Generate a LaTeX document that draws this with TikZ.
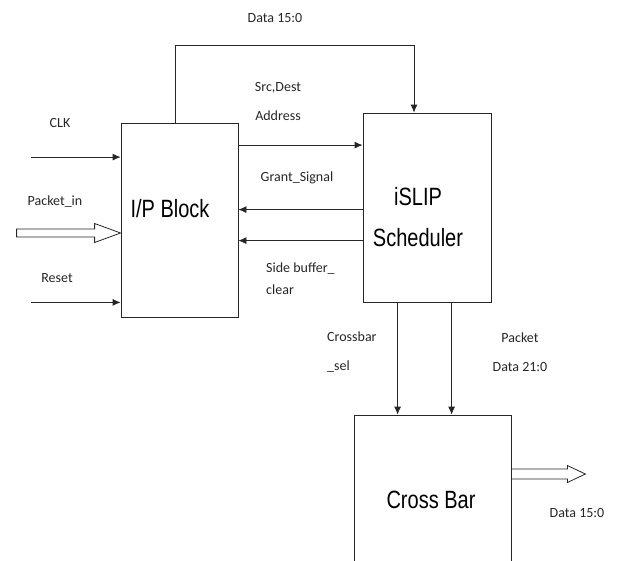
\documentclass[tikz,border=0pt]{standalone}
\usepackage{fontspec}
\setmainfont{Carlito}
\newfontfamily\boxfont[FakeStretch=0.8]{Liberation Sans}
\usetikzlibrary{arrows.meta}

\begin{document}
\begin{tikzpicture}[x=1pt,y=-1pt]
	\tikzstyle{every node}+=[inner sep=0pt]
	\tikzstyle{blk}=[draw=black!85, rectangle, line width=0.8pt]
	\tikzstyle{lbl}=[font=\fontsize{14}{29}\selectfont, text=black!85]
	\tikzstyle{big}=[font=\boxfont\fontsize{25}{41}\selectfont, align=center]
	\tikzstyle{sig}=[-{Latex[length=8pt,width=7pt]}, draw=black!85, line width=0.8pt]
	\tikzstyle{fat}=[draw=black!85, line width=0.8pt, line join=miter]
	\useasboundingbox (0,0) rectangle (617,560);
	\clip (0,0) rectangle (617,560);
	% blocks
	\node[blk, minimum width=117pt, minimum height=194pt] (ipb) at (179.5,220.5) {};
	\node[blk, minimum width=128pt, minimum height=189pt] (islip) at (427,207.5) {};
	\node[blk, minimum width=157pt, minimum height=170pt] (xbar) at (432.5,500) {};
	\node[big] (ipbtxt) at (170,209) {I/P Block};
	\node[big] (isliptxt) at (418,217.5) {iSLIP\\Scheduler};
	\node[big] (xbartxt) at (431,500) {Cross Bar};
	% inputs
	\coordinate (clk) at ([yshift=-34pt]ipb.north west);
	\coordinate (rst) at ([yshift=15.5pt]ipb.south west);
	\coordinate (pin) at ([yshift=-12.5pt]ipb.west);
	\draw[sig] ([xshift=-90pt]clk) -- (clk);
	\draw[sig] ([xshift=-90pt]rst) -- (rst);
	\draw[fat] (pin) -- ++(-26,-9.5) -- ++(0,5.5) -- ++(-78,0) -- ++(0,8) -- ++(78,0) -- ++(0,5.5) -- cycle;
	\node[lbl] (clklbl) at (60,123) {CLK};
	\node[lbl] (pinlbl) at (55,202) {Packet\_in};
	\node[lbl] (rstlbl) at (57,278) {Reset};
	% data bus over the top
	\coordinate (dl) at (175,45);
	\coordinate (dr) at (414,45);
	\draw[sig] (ipb.north -| dl) -- (dl) -- (dr) -- (islip.north -| dr);
	\node[lbl] (datalbl) at (275,18) {Data 15:0};
	% between I/P block and scheduler
	\draw[sig] ([yshift=-22pt]ipb.north east) coordinate (src) -- (src -| islip.west);
	\draw[sig] ([yshift=-97pt]islip.north west) coordinate (gnt) -- (gnt -| ipb.east);
	\draw[sig] ([yshift=-128pt]islip.north west) coordinate (sbc) -- (sbc -| ipb.east);
	\node[lbl, align=center] (srclbl) at (278,101.5) {Src,Dest\\Address};
	\node[lbl] (gntlbl) at (297,178) {Grant\_Signal};
	\node[lbl, align=left, anchor=west, font=\fontsize{14}{22}\selectfont] (sbclbl) at (266,279) {Side buffer\_\\clear};
	% scheduler to cross bar
	\draw[sig] ([xshift=35pt]islip.south west) coordinate (sel) -- (sel |- xbar.north);
	\draw[sig] ([xshift=89pt]islip.south west) coordinate (pkt) -- (pkt |- xbar.north);
	\node[lbl, align=left, anchor=west] (sellbl) at (327,352.5) {Crossbar\\\_sel};
	\node[lbl, align=center] (pktlbl) at (520,352.5) {Packet\\Data 21:0};
	% output
	\coordinate (dout) at ([yshift=26pt]xbar.east);
	\draw[fat] ([yshift=5pt]dout) -- ++(56,0) -- ++(0,-3.5) -- ++(18,8.5) -- ++(-18,8.5) -- ++(0,-3.5) -- ++(-56,0);
	\node[lbl] (doutlbl) at (577,513) {Data 15:0};
\end{tikzpicture}
\end{document}
